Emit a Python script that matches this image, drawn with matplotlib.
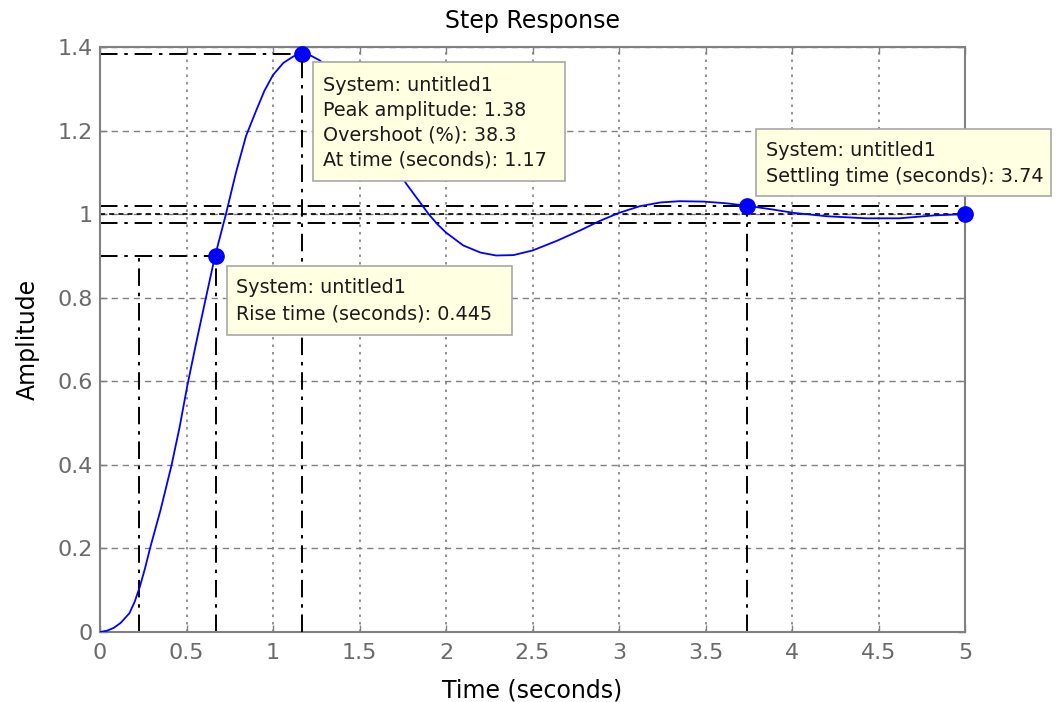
import matplotlib
matplotlib.use("Agg")
import matplotlib.pyplot as plt
from matplotlib.patches import Rectangle

# ---------------- data ----------------
time = [0.00, 0.04, 0.08, 0.12, 0.17, 0.20, 0.23, 0.26, 0.289, 0.35, 0.414, 0.46,
        0.505, 0.555, 0.607, 0.665, 0.728, 0.785, 0.844, 0.90, 0.95, 1.00, 1.06,
        1.12, 1.17, 1.22, 1.27, 1.35, 1.45, 1.55, 1.65, 1.72, 1.77, 1.85, 1.90,
        1.95, 2.00, 2.10, 2.20, 2.29, 2.39, 2.50, 2.64, 2.78, 2.89, 3.00, 3.12,
        3.24, 3.35, 3.49, 3.62, 3.74, 3.89, 4.01, 4.20, 4.43, 4.62, 4.82, 5.00]
amplitude = [0.000, 0.003, 0.010, 0.022, 0.045, 0.072, 0.108, 0.152, 0.200, 0.292,
             0.400, 0.490, 0.590, 0.690, 0.790, 0.900, 1.000, 1.098, 1.187, 1.245,
             1.295, 1.333, 1.362, 1.378, 1.383, 1.379, 1.368, 1.338, 1.288, 1.225,
             1.155, 1.106, 1.073, 1.028, 1.000, 0.976, 0.956, 0.925, 0.908, 0.901,
             0.902, 0.913, 0.936, 0.962, 0.984, 1.003, 1.019, 1.028, 1.031, 1.030,
             1.026, 1.020, 1.011, 1.003, 0.995, 0.990, 0.990, 0.997, 1.000]

peak_time, peak_amp = 1.17, 1.383
rise_low_time, rise_high_time, rise_level = 0.225, 0.67, 0.9
settling_time, settle_hi, settle_lo = 3.74, 1.02, 0.98
final_time, final_value = 5.0, 1.0

x_ticks = [0, 0.5, 1, 1.5, 2, 2.5, 3, 3.5, 4, 4.5, 5]
x_tick_labels = ["0", "0.5", "1", "1.5", "2", "2.5", "3", "3.5", "4", "4.5", "5"]
y_ticks = [0, 0.2, 0.4, 0.6, 0.8, 1.0, 1.2, 1.4]
y_tick_labels = ["0", "0.2", "0.4", "0.6", "0.8", "1", "1.2", "1.4"]

peak_text = ["System: untitled1", "Peak amplitude: 1.38",
             "Overshoot (%): 38.3", "At time (seconds): 1.17"]
rise_text = ["System: untitled1", "Rise time (seconds): 0.445"]
settle_text = ["System: untitled1", "Settling time (seconds): 3.74"]

# ---------------- figure ----------------
W, H = 1056, 702
plt.rcParams['font.family'] = ['DejaVu Sans']
fig = plt.figure(figsize=(W / 100, H / 100), dpi=100)
fig.patch.set_facecolor("white")
ax = fig.add_axes([100 / W, 70 / H, 865 / W, 585 / H])

grey = "#808080"
blue = "#0000FF"
dashdot = (0, (9, 3.5, 1.8, 3.5))

ax.set_xlim(0, 5)
ax.set_ylim(0, 1.4)
ax.set_xticks(x_ticks)
ax.set_xticklabels(x_tick_labels)
ax.set_yticks(y_ticks)
ax.set_yticklabels(y_tick_labels)
ax.tick_params(direction="in", length=5, width=1, color=grey, labelcolor="#6a6a6a",
               labelsize=16, top=True, right=True)
ax.tick_params(axis="x", pad=8)
ax.tick_params(axis="y", pad=5)
for s in ax.spines.values():
    s.set_color(grey)
    s.set_linewidth(1.5)

ax.yaxis.grid(True, color=grey, linestyle=(0, (4.5, 3.5)), linewidth=1)
ax.xaxis.grid(True, color=grey, linestyle=(0, (1.5, 3)), linewidth=1.2)
ax.set_axisbelow(True)

# characteristic lines
kw = dict(color="black", linestyle=dashdot, linewidth=1.4, zorder=2)
ax.plot([0, peak_time], [peak_amp, peak_amp], **kw)
ax.plot([peak_time, peak_time], [0, peak_amp], color="black", linestyle=dashdot,
        linewidth=1.4, zorder=6)
ax.plot([0, rise_high_time], [rise_level, rise_level], **kw)
ax.plot([rise_low_time, rise_low_time], [0, rise_level], **kw)
ax.plot([rise_high_time, rise_high_time], [0, rise_level], **kw)
ax.plot([0, final_time], [settle_hi, settle_hi], **kw)
ax.plot([0, final_time], [settle_lo, settle_lo], **kw)
ax.plot([settling_time, settling_time], [0, settle_hi], **kw)
ax.plot([0, final_time], [final_value, final_value], color="black",
        linestyle=(0, (3, 2.5)), linewidth=1.2, zorder=2)

# response curve
ax.plot(time, amplitude, color=blue, linewidth=1.3, zorder=3)
ax.plot([peak_time, rise_high_time, settling_time, final_time],
        [peak_amp, rise_level, settle_hi, final_value],
        linestyle="none", marker="o", markersize=11, color=blue, zorder=4,
        clip_on=False)

ax.set_title("Step Response", fontsize=17, pad=14)
ax.set_xlabel("Time (seconds)", fontsize=17, labelpad=11)
ax.set_ylabel("Amplitude", fontsize=17, labelpad=13)


# ---------------- data-tip boxes ----------------
def tip(x0, y0, x1, y1, lines, tx, cap_centers):
    rect = Rectangle((x0 / W, 1 - y1 / H), (x1 - x0) / W, (y1 - y0) / H,
                     transform=fig.transFigure, facecolor="#FFFFE1",
                     edgecolor="#A8A8A8", linewidth=1.2, zorder=5)
    fig.add_artist(rect)
    for line, yc in zip(lines, cap_centers):
        fig.text(tx / W, 1 - (yc + 6.8) / H, line, fontsize=13.8, color="#1a1a1a",
                 ha="left", va="baseline", zorder=7)


tip(313, 62, 565, 181, peak_text, 323, [84, 109, 134, 158.7])
tip(227, 266, 512, 335, rise_text, 236, [286, 312.7])
tip(756, 129, 1051, 196, settle_text, 766, [148.8, 175.5])

fig.savefig("out.png", dpi=100)
